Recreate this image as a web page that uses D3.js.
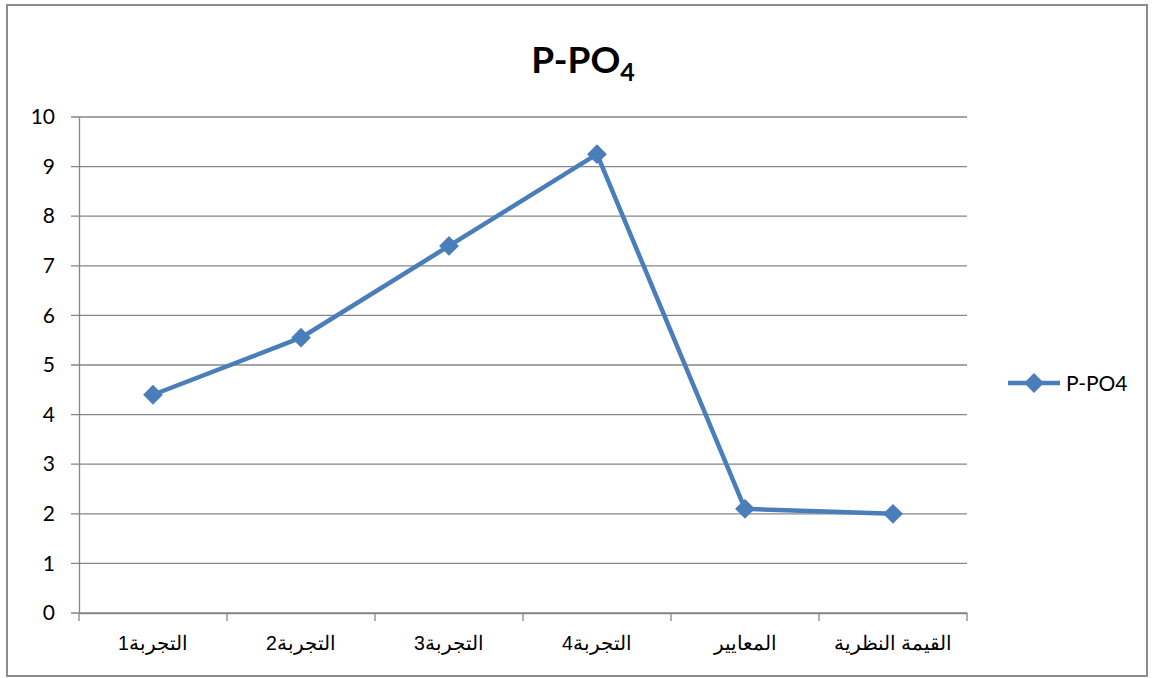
<!DOCTYPE html>
<html>
<head>
<meta charset="utf-8">
<script src="https://cdn.jsdelivr.net/npm/d3@7"></script>
<style>
  body { margin: 0; background: #fff; }
  svg { font-family: Lato, "Liberation Sans", Arial, sans-serif; }
</style>
</head>
<body>
<div id="chart"></div>
<script>
const categories = ["التجربة1", "التجربة2", "التجربة3", "التجربة4", "المعايير", "القيمة النظرية"];
const values = [4.4, 5.55, 7.4, 9.25, 2.1, 2.0];
const yTicks = [0, 1, 2, 3, 4, 5, 6, 7, 8, 9, 10];
const seriesName = "P-PO4";

const W = 1153, H = 678;
const margin = { LEFT: 79, RIGHT: 186, TOP: 117, BOTTOM: 65 };
const width = W - margin.LEFT - margin.RIGHT;
const height = H - margin.TOP - margin.BOTTOM;
const blue = "#4a7ebb";
const grey = "#868686";

const svg = d3.select("#chart").append("svg")
  .attr("width", W)
  .attr("height", H);

// outer frame
svg.append("rect")
  .attr("x", 7).attr("y", 5)
  .attr("width", 1140).attr("height", 671)
  .attr("fill", "none")
  .attr("stroke", "#8c8c8c")
  .attr("stroke-width", 2);

// title with subscript
const title = svg.append("text")
  .attr("x", 583)
  .attr("y", 73)
  .attr("text-anchor", "middle")
  .attr("font-size", "37px")
  .attr("font-weight", "bold");
title.append("tspan").text("P-PO");
title.append("tspan").attr("font-size", "25px").attr("dy", 8).text("4");

const g = svg.append("g")
  .attr("transform", `translate(${margin.LEFT}, ${margin.TOP})`);

// scales
const x = d3.scaleBand().domain(categories).range([0, width]);
const y = d3.scaleLinear().domain([0, 10]).range([height, 0]);

// gridlines
g.append("g")
  .selectAll("line")
  .data(yTicks)
  .join("line")
  .attr("x1", -8)
  .attr("x2", width)
  .attr("y1", d => y(d))
  .attr("y2", d => y(d))
  .attr("stroke", grey)
  .attr("stroke-width", 1.3);

// y axis
const yAxis = g.append("g")
  .call(d3.axisLeft(y).tickValues(yTicks).tickSize(0).tickPadding(24));
yAxis.select(".domain").attr("stroke", grey).attr("stroke-width", 1.3);
yAxis.selectAll("text").attr("font-size", "21px").attr("fill", "#000")
  .attr("font-family", "Lato, sans-serif");

// x axis
const xAxis = g.append("g")
  .attr("transform", `translate(0, ${height})`)
  .call(d3.axisBottom(x).tickSize(0).tickPadding(23));
xAxis.select(".domain").attr("stroke", grey).attr("stroke-width", 1.3);
xAxis.selectAll("text").attr("font-size", "19.5px").attr("fill", "#000")
  .attr("font-family", "Liberation Sans, Arial, sans-serif");
// category boundary ticks
g.append("g")
  .selectAll("line")
  .data(d3.range(categories.length + 1))
  .join("line")
  .attr("x1", i => i * x.step())
  .attr("x2", i => i * x.step())
  .attr("y1", height)
  .attr("y2", height + 8)
  .attr("stroke", grey)
  .attr("stroke-width", 1.3);

// line
const cx = (d, i) => x(categories[i]) + x.bandwidth() / 2;
const line = d3.line()
  .x((d, i) => cx(d, i))
  .y(d => y(d));

g.append("path")
  .attr("d", line(values))
  .attr("fill", "none")
  .attr("stroke", blue)
  .attr("stroke-width", 4.5)
  .attr("stroke-linejoin", "round");

const diamond = d3.symbol().type(d3.symbolDiamond2).size(250);
g.append("g")
  .selectAll("path")
  .data(values)
  .join("path")
  .attr("d", diamond)
  .attr("transform", (d, i) => `translate(${cx(d, i)}, ${y(d)})`)
  .attr("fill", blue);

// legend
const legend = svg.append("g").attr("transform", "translate(1008, 383)");
legend.append("line")
  .attr("x1", 0).attr("x2", 52)
  .attr("stroke", blue).attr("stroke-width", 4.5);
legend.append("path")
  .attr("d", diamond)
  .attr("transform", "translate(26, 0)")
  .attr("fill", blue);
legend.append("text")
  .attr("x", 58)
  .attr("y", 8)
  .attr("font-size", "21px")
  .text(seriesName);
</script>
</body>
</html>
